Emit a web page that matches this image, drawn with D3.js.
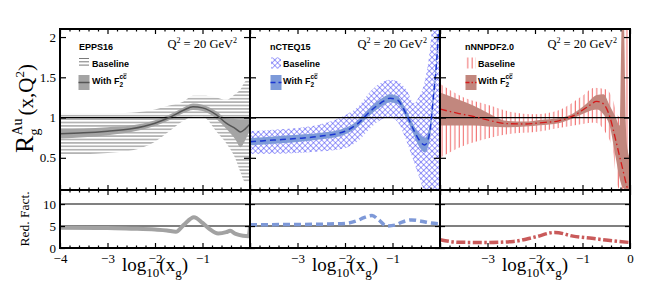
<!DOCTYPE html>
<html>
<head>
<meta charset="utf-8">
<script src="https://cdn.jsdelivr.net/npm/d3@7"></script>
<style>
  body { margin: 0; background: #fff; }
  svg { display: block; }
</style>
</head>
<body>
<div class="chart"></div>
<script>
// values, x = log10(x_g)

// EPPS16
const eppsX       = [-4, -3.5, -3, -2.5, -2, -1.7, -1.4, -1.2, -1.0, -0.7, -0.5, -0.3, -0.2, -0.1, 0];
const eppsCentral = [0.80, 0.81, 0.83, 0.86, 0.93, 1.00, 1.09, 1.135, 1.12, 1.03, 0.93, 0.86, 0.82, 0.86, 0.92];
const eppsBandLo  = [0.74, 0.755, 0.78, 0.82, 0.895, 0.965, 1.055, 1.095, 1.08, 0.98, 0.86, 0.72, 0.63, 0.72, 0.85];
const eppsBandHi  = [0.86, 0.865, 0.88, 0.90, 0.965, 1.035, 1.125, 1.175, 1.16, 1.075, 0.99, 0.98, 0.97, 0.97, 0.97];
const eppsBaseLo  = [0.53, 0.545, 0.56, 0.59, 0.70, 0.83, 0.96, 1.01, 1.01, 0.82, 0.68, 0.48, 0.32, 0.20, 0.20];
const eppsBaseHi  = [1.05, 1.05, 1.05, 1.06, 1.10, 1.15, 1.20, 1.27, 1.27, 1.25, 1.22, 1.30, 1.35, 1.45, 1.48];
const eppsRedX    = [-4, -3, -2.5, -2, -1.75, -1.56, -1.4, -1.18, -1.0, -0.85, -0.67, -0.5, -0.42, -0.3, -0.15, -0.03, 0];
const eppsRed     = [4.6, 4.55, 4.4, 4.2, 4.0, 3.7, 5.2, 7.0, 5.7, 4.3, 3.3, 3.6, 3.9, 3.2, 2.8, 2.7, 4.8];

// nCTEQ15
const ncteqX       = [-4, -3.5, -3, -2.5, -2, -1.7, -1.5, -1.25, -1.05, -0.9, -0.7, -0.55, -0.45, -0.32, -0.22, -0.14, -0.07, 0];
const ncteqCentral = [0.70, 0.72, 0.74, 0.77, 0.83, 0.94, 1.06, 1.18, 1.24, 1.22, 1.03, 0.84, 0.73, 0.66, 0.80, 1.25, 1.70, 2.4];
const ncteqBandLo  = [0.655, 0.675, 0.695, 0.73, 0.79, 0.90, 1.015, 1.13, 1.19, 1.17, 0.98, 0.78, 0.65, 0.57, 0.71, 1.18, 1.65, 2.35];
const ncteqBandHi  = [0.745, 0.765, 0.785, 0.81, 0.87, 0.98, 1.105, 1.23, 1.29, 1.27, 1.08, 0.90, 0.81, 0.75, 0.89, 1.32, 1.75, 2.45];
const ncteqBaseLo  = [0.55, 0.55, 0.56, 0.58, 0.62, 0.72, 0.85, 0.97, 1.0, 0.95, 0.70, 0.45, 0.28, 0.1, 0.1, 0.1, 0.1, 0.1];
const ncteqBaseHi  = [0.83, 0.85, 0.87, 0.92, 1.03, 1.15, 1.30, 1.43, 1.47, 1.45, 1.34, 1.18, 1.25, 1.45, 1.8, 2.2, 2.2, 2.2];
const ncteqRedX    = [-4, -3, -2.4, -2, -1.75, -1.6, -1.43, -1.3, -1.12, -0.95, -0.8, -0.6, -0.4, -0.2, 0];
const ncteqRed     = [5.3, 5.35, 5.45, 5.6, 6.2, 6.9, 7.4, 6.5, 5.0, 5.2, 5.9, 6.4, 6.1, 5.7, 5.5];

// nNNPDF2.0
const nnpdfX       = [-4, -3.6, -3.3, -3, -2.6, -2.2, -1.9, -1.5, -1.2, -0.9, -0.7, -0.56, -0.42, -0.3, -0.22, -0.17, -0.13, -0.09, -0.05, 0];
const nnpdfCentral = [1.105, 1.05, 1.015, 0.97, 0.925, 0.92, 0.935, 0.96, 1.02, 1.13, 1.20, 1.17, 1.00, 0.72, 0.52, 0.40, 0.30, 0.20, 0.12, 0.10];
const nnpdfBandLo  = [0.90, 0.90, 0.90, 0.89, 0.88, 0.89, 0.905, 0.93, 0.99, 1.07, 1.10, 1.04, 0.88, 0.50, 0.25, 0.15, 0.12, 0.10, 0.10, 0.10];
const nnpdfBandHi  = [1.31, 1.22, 1.15, 1.06, 0.96, 0.95, 0.97, 0.99, 1.05, 1.18, 1.28, 1.29, 1.14, 1.00, 0.90, 2.2, 2.2, 0.95, 0.60, 0.50];
const nnpdfBaseX   = [-4, -3.5, -3, -2.5, -2, -1.5, -1, -0.75, -0.5, -0.35, -0.28, -0.2, -0.15, -0.1, -0.05, 0];
const nnpdfBaseLo  = [0.50, 0.65, 0.74, 0.80, 0.82, 0.87, 0.92, 0.94, 0.80, 0.55, 0.18, 0.10, 0.10, 0.10, 0.10, 0.10];
const nnpdfBaseHi  = [1.42, 1.25, 1.16, 1.07, 1.04, 1.09, 1.27, 1.37, 1.35, 1.20, 1.05, 1.00, 2.2, 2.2, 2.2, 1.0];
const nnpdfRedX    = [-4, -3.6, -3, -2.45, -2, -1.58, -1.2, -0.8, -0.35, 0];
const nnpdfRed     = [1.9, 1.3, 1.25, 1.5, 2.5, 3.55, 2.7, 2.2, 1.6, 1.25];

// axis ticks
const xMajor = [-4, -3, -2, -1, 0];
const xLabels = [[-4, -3, -2, -1], [-3, -2, -1], [-3, -2, -1, 0]];
const yMajor = [0.5, 1, 1.5, 2];
const yRedMajor = [0, 5, 10];
const names = ['EPPS16', 'nCTEQ15', 'nNNPDF2.0'];

const serif = '"Liberation Serif", "Times New Roman", serif';
const sans = '"Liberation Sans", Arial, sans-serif';

const W = 664, H = 293;
const margin = { top: 29, left: 60 };
const panelW = 190, upperH = 161, lowerH = 58;

const svg = d3.select('.chart').append('svg')
  .attr('width', W).attr('height', H);

const defs = svg.append('defs');
defs.append('clipPath').attr('id', 'clipU')
  .append('rect').attr('width', panelW).attr('height', upperH);
defs.append('clipPath').attr('id', 'clipL')
  .append('rect').attr('width', panelW).attr('height', lowerH);

// baseline fill patterns
defs.append('pattern').attr('id', 'hatchH')
  .attr('patternUnits', 'userSpaceOnUse').attr('width', 6).attr('height', 3.4)
  .append('line').attr('x1', 0).attr('x2', 6).attr('y1', 1.7).attr('y2', 1.7)
  .attr('stroke', '#6e6e6e').attr('stroke-width', 0.9);
defs.append('pattern').attr('id', 'hatchX')
  .attr('patternUnits', 'userSpaceOnUse').attr('width', 3.9).attr('height', 3.9)
  .attr('patternTransform', 'rotate(45)')
  .append('path').attr('d', 'M0,0.3H3.9M0.3,0V3.9')
  .attr('fill', 'none').attr('stroke', '#3434f4').attr('stroke-width', 0.6);
defs.append('pattern').attr('id', 'hatchV')
  .attr('patternUnits', 'userSpaceOnUse').attr('width', 4.3).attr('height', 10)
  .append('line').attr('x1', 2).attr('x2', 2).attr('y1', 0).attr('y2', 10)
  .attr('stroke', '#f06464').attr('stroke-width', 1);

const panels = [
  { X: eppsX, c: eppsCentral, lo: eppsBandLo, hi: eppsBandHi, bX: eppsX, bLo: eppsBaseLo, bHi: eppsBaseHi,
    rX: eppsRedX, r: eppsRed, base: 'url(#hatchH)', band: '#a4a4a4',
    line: { stroke: '#555', width: 1.5, dash: null, legDash: null },
    red: { stroke: '#a2a2a2', width: 4, dash: null },
    leg: [19, 19, 32] },
  { X: ncteqX, c: ncteqCentral, lo: ncteqBandLo, hi: ncteqBandHi, bX: ncteqX, bLo: ncteqBaseLo, bHi: ncteqBaseHi,
    rX: ncteqRedX, r: ncteqRed, base: 'url(#hatchX)', band: '#7d9ad9',
    line: { stroke: '#1b36d2', width: 1.5, dash: '6,4', legDash: '5,3' },
    red: { stroke: '#7e99d8', width: 3.5, dash: '7,4' },
    leg: [20, 21, 33] },
  { X: nnpdfX, c: nnpdfCentral, lo: nnpdfBandLo, hi: nnpdfBandHi, bX: nnpdfBaseX, bLo: nnpdfBaseLo, bHi: nnpdfBaseHi,
    rX: nnpdfRedX, r: nnpdfRed, base: 'url(#hatchV)', band: '#c2877e',
    line: { stroke: '#d51a1a', width: 1.3, dash: '7,3,1.5,3', legDash: '4,2,1.5,2' },
    red: { stroke: '#c95a5a', width: 3.5, dash: '9,2.5,2.5,2.5' },
    leg: [25, 26, 38] }
];

const x = d3.scaleLinear().domain([-4, 0]).range([0, panelW]);
const yU = d3.scaleLinear().domain([0.1, 2.1]).range([upperH, 0]);
const yL = d3.scaleLinear().domain([0, 13.2]).range([lowerH, 0]);
const xMinor = d3.range(-3.8, 0, 0.2).filter(v => Math.abs(v - Math.round(v)) > 0.05);

function ticks(g, axis) {
  g.call(axis);
  g.select('.domain').remove();
  g.selectAll('.tick line').attr('stroke', '#000').attr('stroke-width', 1.2);
  g.selectAll('text').attr('font-family', serif).attr('font-size', 13).attr('fill', '#000');
}

function frameTicks(g, h, yScale, yTicks, len) {
  ticks(g.append('g'), d3.axisTop(x).tickValues(xMajor).tickSize(-5).tickFormat(''));
  ticks(g.append('g'), d3.axisTop(x).tickValues(xMinor).tickSize(-2.5).tickFormat(''));
  ticks(g.append('g').attr('transform', `translate(0,${h})`),
    d3.axisBottom(x).tickValues(xMajor).tickSize(-5).tickFormat(''));
  ticks(g.append('g').attr('transform', `translate(0,${h})`),
    d3.axisBottom(x).tickValues(xMinor).tickSize(-2.5).tickFormat(''));
  ticks(g.append('g'), d3.axisLeft(yScale).tickValues(yTicks).tickSize(-len).tickFormat(''));
  ticks(g.append('g').attr('transform', `translate(${panelW},0)`),
    d3.axisRight(yScale).tickValues(yTicks).tickSize(-len).tickFormat(''));
  g.append('rect').attr('width', panelW).attr('height', h)
    .attr('fill', 'none').attr('stroke', '#000').attr('stroke-width', 2);
}

panels.forEach((p, k) => {
  const ox = margin.left + k * panelW;
  const up = svg.append('g').attr('transform', `translate(${ox},${margin.top})`);
  const lo = svg.append('g').attr('transform', `translate(${ox},${margin.top + upperH})`);

  // ---- upper panel
  const cu = up.append('g').attr('clip-path', 'url(#clipU)');
  const idxB = d3.range(p.bX.length), idx = d3.range(p.X.length);

  cu.append('path').datum(idxB)
    .attr('fill', p.base)
    .attr('d', d3.area().curve(d3.curveMonotoneX)
      .x(i => x(p.bX[i])).y0(i => yU(p.bLo[i])).y1(i => yU(p.bHi[i])));

  cu.append('path').datum(idx)
    .attr('fill', p.band)
    .attr('d', d3.area().curve(d3.curveMonotoneX)
      .x(i => x(p.X[i])).y0(i => yU(p.lo[i])).y1(i => yU(p.hi[i])));

  cu.append('line').attr('x1', 0).attr('x2', panelW)
    .attr('y1', yU(1)).attr('y2', yU(1))
    .attr('stroke', '#000').attr('stroke-width', 1.2);

  cu.append('path').datum(idx)
    .attr('fill', 'none')
    .attr('stroke', p.line.stroke).attr('stroke-width', p.line.width)
    .attr('stroke-dasharray', p.line.dash)
    .attr('d', d3.line().curve(d3.curveMonotoneX)
      .x(i => x(p.X[i])).y(i => yU(p.c[i])));

  frameTicks(up, upperH, yU, yMajor, 6);

  // legend
  const leg = up.append('g').attr('font-family', sans).attr('font-weight', 'bold')
    .attr('font-size', 9).attr('fill', '#000');
  leg.append('text').attr('x', p.leg[0]).attr('y', 20.5).text(names[k]);
  if (k === 0) {
    [29.5, 32.8, 36.1].forEach(yy => leg.append('line')
      .attr('x1', p.leg[1]).attr('x2', p.leg[1] + 10).attr('y1', yy).attr('y2', yy)
      .attr('stroke', '#6a6a6a').attr('stroke-width', 0.9));
  } else {
    leg.append('rect').attr('x', p.leg[1]).attr('y', 28.5).attr('width', 10).attr('height', 11)
      .attr('fill', p.base);
  }
  leg.append('text').attr('x', p.leg[2]).attr('y', 37.7).text('Baseline');
  leg.append('rect').attr('x', p.leg[1] - 0.5).attr('y', 46).attr('width', 11).attr('height', 15)
    .attr('fill', p.band);
  leg.append('line').attr('x1', p.leg[1] - 0.5).attr('x2', p.leg[1] + 10.5)
    .attr('y1', 53.5).attr('y2', 53.5)
    .attr('stroke', p.line.stroke).attr('stroke-width', p.line.width)
    .attr('stroke-dasharray', p.line.legDash);
  const wt = leg.append('text').attr('x', p.leg[2]).attr('y', 55);
  wt.append('tspan').text('With F');
  const sub2 = wt.append('tspan').attr('font-size', 6.5).attr('dy', 3.2).text('2');
  const c1 = wt.append('tspan').attr('font-size', 6.5).attr('dy', -8.5).text('c');
  c1.attr('dx', -sub2.node().getComputedTextLength());
  const c2 = wt.append('tspan').attr('font-size', 6.5).text('c');
  const cb = c2.node().getBBox();
  leg.append('line').attr('x1', cb.x + 0.3).attr('x2', cb.x + cb.width - 0.3)
    .attr('y1', cb.y + 1.2).attr('y2', cb.y + 1.2)
    .attr('stroke', '#000').attr('stroke-width', 0.7);

  // Q^2 label
  const q = up.append('text').attr('font-family', serif).attr('font-size', 12.5)
    .attr('text-anchor', 'end').attr('x', panelW - 13).attr('y', 18.5);
  q.append('tspan').text('Q');
  q.append('tspan').attr('font-size', 8).attr('dy', -5).text('2');
  q.append('tspan').attr('dy', 5).text(' = 20 GeV');
  q.append('tspan').attr('font-size', 8).attr('dy', -5).text('2');

  // ---- lower panel (reduction factor)
  const cl = lo.append('g').attr('clip-path', 'url(#clipL)');
  cl.append('line').attr('x1', 0).attr('x2', panelW).attr('y1', yL(10)).attr('y2', yL(10))
    .attr('stroke', '#808080').attr('stroke-width', 2);
  cl.append('line').attr('x1', 0).attr('x2', panelW).attr('y1', yL(5)).attr('y2', yL(5))
    .attr('stroke', '#000').attr('stroke-width', 1.1);
  cl.append('path').datum(d3.range(p.rX.length))
    .attr('fill', 'none')
    .attr('stroke', p.red.stroke).attr('stroke-width', p.red.width)
    .attr('stroke-dasharray', p.red.dash).attr('stroke-linejoin', 'round')
    .attr('d', d3.line().curve(d3.curveMonotoneX)
      .x(i => x(p.rX[i])).y(i => yL(p.r[i])));

  frameTicks(lo, lowerH, yL, yRedMajor, 5);

  // x tick labels
  ticks(lo.append('g').attr('transform', `translate(0,${lowerH})`),
    d3.axisBottom(x).tickValues(xLabels[k]).tickSize(0).tickPadding(6).tickFormat(d3.format('')));

  // y tick labels on the first panel only
  if (k === 0) {
    ticks(up.append('g'), d3.axisLeft(yU).tickValues(yMajor).tickSize(0).tickPadding(4).tickFormat(d3.format('')));
    ticks(lo.append('g'), d3.axisLeft(yL).tickValues(yRedMajor).tickSize(0).tickPadding(4).tickFormat(d3.format('')));
  }

  // x title
  const xt = svg.append('text').attr('font-family', serif).attr('font-size', 19)
    .attr('x', 0).attr('y', 271);
  xt.append('tspan').text('log');
  xt.append('tspan').attr('font-size', 13).attr('dy', 6).text('10');
  xt.append('tspan').attr('dy', -6).text('(x');
  xt.append('tspan').attr('font-size', 13).attr('dy', 6).text('g');
  xt.append('tspan').attr('dy', -6).text(')');
  const bb = xt.node().getBBox();
  xt.attr('x', ox + panelW / 2 - bb.width / 2);
});

// y titles
const yt = svg.append('g');
const ytt = yt.append('text').attr('font-family', serif).attr('fill', '#000');
ytt.append('tspan').attr('font-size', 26).text('R');
const gs = ytt.append('tspan').attr('font-size', 14).attr('dy', 6).text('g');
const au = ytt.append('tspan').attr('font-size', 14).attr('dy', -17).text('Au');
au.attr('dx', -gs.node().getComputedTextLength());
ytt.append('tspan').attr('font-size', 21).attr('dy', 11).attr('dx', 3).text('(x,Q');
ytt.append('tspan').attr('font-size', 13).attr('dy', -9).text('2');
ytt.append('tspan').attr('font-size', 21).attr('dy', 9).text(')');
const ybb = ytt.node().getBBox();
yt.attr('transform', `translate(33,${margin.top + upperH / 2 - 1}) rotate(-90) translate(${-ybb.width / 2 - ybb.x},0)`);

svg.append('text').attr('font-family', serif).attr('font-size', 13.5)
  .attr('text-anchor', 'middle')
  .attr('transform', `translate(29,${margin.top + upperH + 29}) rotate(-90)`)
  .text('Red. Fact.');
</script>
</body>
</html>
